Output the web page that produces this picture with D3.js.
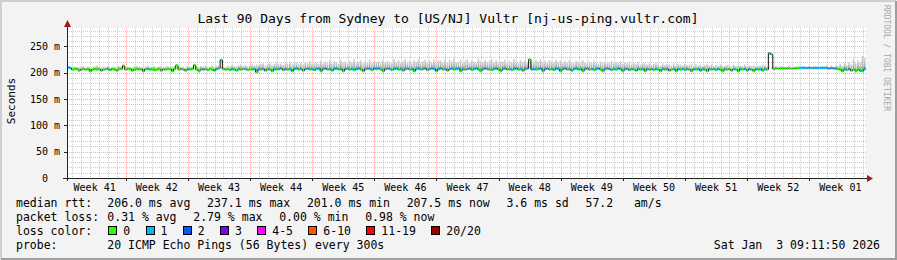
<!DOCTYPE html>
<html><head><meta charset="utf-8">
<script src="https://cdn.jsdelivr.net/npm/d3@7/dist/d3.min.js"></script>
<style>
body{margin:0;background:#f3f3f3}
svg{display:block}
text{font-family:"DejaVu Sans Mono",monospace;white-space:pre}
</style>
</head><body>
<svg id="c" width="897" height="260"></svg>
<script>
// ---------- data ----------
const startTime = Date.UTC(2025, 9, 5, 9, 11, 50);
const endTime   = Date.UTC(2026, 0, 3, 9, 11, 50);
const stepHours = 6;

// median rtt (ms), one value per 6 h (rows = one week)
const median = [
 210,209,206,207, 207,204,206,207, 206,207,203,206, 207,206,207,204, 206,207,207,205, 207,206,204,207, 207,213,206,207,
 207,204,206,207, 206,207,203,207, 207,206,207,205, 206,207,204,207, 206,207,207,203, 207,214,206,207, 206,204,207,206,
 207,214,206,203, 207,206,207,205, 207,206,204,207, 208,224,207,206, 207,205,207,206, 204,207,206,207, 207,205,207,206,
 207,201,207,206, 207,204,207,206, 203,207,206,207, 208,205,207,206, 207,203,207,208, 206,207,204,207, 208,206,207,205,
 207,208,203,207, 208,206,207,204, 207,208,206,207, 203,207,208,206, 207,205,207,208, 206,203,207,208, 207,205,208,207,
 208,206,203,207, 208,207,205,207, 208,206,207,204, 207,208,206,207, 203,207,208,206, 207,208,205,207, 208,207,203,207,
 208,206,207,204, 207,208,206,207, 208,203,207,206, 207,208,205,207, 208,206,203,207, 208,207,206,205, 207,208,206,203,
 207,208,206,207, 205,207,208,206, 207,204,207,208, 225,206,207,206, 207,208,203,207, 208,206,207,205, 208,207,203,207,
 208,206,207,204, 207,208,206,207, 203,207,208,206, 207,205,207,208, 206,203,207,208, 207,205,207,206, 208,207,203,207,
 207,205,207,206, 204,207,206,207, 203,207,206,207, 205,207,206,203, 207,206,207,204, 206,207,203,207, 206,207,205,207,
 206,203,207,206, 207,204,207,206, 203,207,206,207, 205,207,206,203, 207,206,207,204, 207,206,203,207, 206,207,204,207,
 206,203,207,206, 207,204,207,206, 237,235,207,208, 208,208,208,208, 208,208,208,208, 208,209,209,209, 209,209,209,209,
 209,209,209,209, 209,209,209,208, 209,208,208,207, 206,203,207,205, 207,204,206,203, 206,204,203,207
];
// upper edge of the smoke (ms)
const smokeHi = [
 213,212,210,212, 211,210,212,213, 210,212,211,210, 212,214,211,210, 212,211,213,210, 211,212,210,213, 212,216,211,212,
 211,210,212,213, 212,210,211,212, 214,211,210,213, 211,212,213,210, 212,213,211,212, 213,217,212,211, 212,210,213,212,
 211,217,212,210, 213,212,214,211, 212,214,211,213, 214,227,212,211, 213,212,215,213, 212,214,216,213, 215,213,214,216,
 214,216,215,217, 218,214,216,219, 215,217,220,216, 218,215,219,217, 221,216,218,220, 217,219,216,221, 218,222,217,219,
 220,217,223,218, 221,219,224,218, 222,220,217,225, 219,222,218,223, 220,226,219,221, 224,218,222,220, 225,219,223,221,
 222,219,225,220, 223,221,218,226, 220,224,219,222, 227,220,223,218, 224,221,226,219, 222,225,220,223, 219,226,221,224,
 223,220,226,219, 224,222,227,220, 221,225,219,223, 226,220,224,221, 219,227,222,220, 225,221,223,226, 220,224,219,222,
 221,225,219,223, 220,226,222,219, 224,221,225,220, 228,222,219,224, 221,226,220,223, 219,224,222,221, 225,220,223,219,
 222,219,224,220, 218,223,221,219, 224,220,218,222, 219,223,220,217, 222,219,221,218, 220,223,218,221, 219,222,217,220,
 218,221,216,219, 217,220,215,218, 219,216,218,215, 217,219,216,214, 218,215,217,216, 214,218,215,217, 216,214,217,215,
 215,217,213,216, 214,216,213,215, 217,214,216,213, 215,213,216,214, 213,215,214,212, 216,213,215,214, 213,216,212,214,
 213,215,212,214, 213,216,214,212, 240,238,212,213, 211,212,213,211, 212,214,211,212, 213,211,212,213, 212,211,213,212,
 212,213,211,212, 213,212,214,211, 213,212,214,213, 217,214,219,215, 221,216,226,218, 224,220,232,228
];
// lost pings (of 20)
const loss = [
 1,1,0,0, 0,0,0,0, 0,0,0,0, 0,0,0,0, 0,0,1,0, 0,0,0,0, 0,0,0,0,
 0,0,0,0, 0,0,0,0, 1,0,0,0, 0,0,0,0, 0,0,0,0, 0,0,0,0, 0,0,1,0,
 0,0,0,0, 0,1,0,0, 0,0,0,1, 0,1,0,0, 0,0,1,0, 0,1,0,0, 1,0,0,0,
 1,0,1,0, 1,0,1,0, 0,1,0,1, 1,0,1,0, 1,0,1,1, 0,1,0,1, 1,0,1,0,
 1,1,0,1, 1,0,1,0, 1,1,0,1, 0,1,1,0, 1,0,1,1, 0,0,1,1, 1,0,1,1,
 1,0,0,1, 1,1,0,1, 1,0,1,0, 1,1,0,1, 0,1,1,0, 1,1,0,1, 1,1,0,1,
 1,0,1,0, 1,1,0,1, 1,0,1,0, 1,1,0,1, 1,0,0,1, 1,1,0,0, 1,1,0,0,
 1,1,0,1, 0,1,1,0, 1,0,1,1, 0,1,1,0, 1,1,0,1, 1,0,1,0, 1,1,0,1,
 1,0,1,0, 1,1,0,1, 0,1,1,0, 1,0,1,1, 0,0,1,1, 1,0,1,0, 1,1,0,1,
 1,0,1,0, 0,1,0,1, 0,1,0,1, 0,1,0,0, 1,0,1,0, 0,1,0,1, 0,1,0,1,
 0,0,1,0, 1,0,1,0, 0,1,0,1, 0,1,0,0, 1,0,0,0, 1,0,0,1, 0,1,0,1,
 0,0,1,0, 1,0,1,0, 1,0,0,0, 0,0,0,0, 0,0,0,0, 0,0,1,1, 1,1,1,1,
 1,1,1,1, 1,1,1,1, 1,1,1,0, 0,0,1,0, 1,0,0,0, 0,1,0,1
];

const yMajor = [0, 50, 100, 150, 200, 250];
const yMajorLabels = ["0  ", "50 m", "100 m", "150 m", "200 m", "250 m"];
const yMinorStep = 10;

const lossLabels = ["0", "1", "2", "3", "4-5", "6-10", "11-19", "20/20"];
const lossColors = ["#26ff00", "#00b8ff", "#0059ff", "#7e00ff", "#ff00ff", "#ff5500", "#ff0000", "#a10000"];
const lossUpper = [0, 1, 2, 3, 5, 10, 19, 20];

const title = "Last 90 Days from Sydney to [US/NJ] Vultr [nj-us-ping.vultr.com]";
const legendRows = [
  ["median rtt:", ["206.0 ms avg", "237.1 ms max", "201.0 ms min", "207.5 ms now", "3.6 ms sd", "57.2   am/s"]],
  ["packet loss:", ["0.31 % avg", "2.79 % max", "0.00 % min", "0.98 % now"]]
];
const probeLabel = "probe:";
const probeText = "20 ICMP Echo Pings (56 Bytes) every 300s";
const stamp = "Sat Jan  3 09:11:50 2026";

// ---------- drawing ----------
const W = 897, H = 260;
const svg = d3.select("#c");
const x = d3.scaleUtc().domain([new Date(startTime), new Date(endTime)]).range([67, 866]);
const y = d3.scaleLinear().domain([0, 285]).range([178, 28]);
const [x0, x1] = x.range();
const [yb, yt] = y.range();

// frame
svg.append("rect").attr("width", W).attr("height", H).attr("fill", "#f3f3f3");
svg.append("path").attr("d", `M1,${H-1}V1H${W-1}`).attr("stroke", "#cfcfcf").attr("stroke-width", 2).attr("fill", "none");
svg.append("path").attr("d", `M1,${H-1}H${W-1}V1`).attr("stroke", "#9e9e9e").attr("stroke-width", 2).attr("fill", "none");

// canvas
svg.append("rect").attr("x", x0).attr("y", yt).attr("width", x1 - x0).attr("height", yb - yt).attr("fill", "#ffffff");

const grid = svg.append("g").attr("shape-rendering", "crispEdges");
const minorCol = "rgba(143,143,143,0.45)", majorCol = "rgba(255,64,64,0.45)";
d3.range(yMinorStep, y.domain()[1], yMinorStep).filter(v => v % 50 !== 0).forEach(v => {
  grid.append("line").attr("x1", x0).attr("x2", x1).attr("y1", Math.round(y(v)) + 0.5).attr("y2", Math.round(y(v)) + 0.5)
    .attr("stroke", minorCol).attr("stroke-dasharray", "1,1");
});
const days = d3.utcDay.range(new Date(startTime), new Date(endTime));
days.forEach(d => {
  if (d.getUTCDay() === 0) return;
  const xv = Math.round(x(d)) + 0.5;
  grid.append("line").attr("x1", xv).attr("x2", xv).attr("y1", yt).attr("y2", yb)
    .attr("stroke", minorCol).attr("stroke-dasharray", "1,1");
});
yMajor.filter(v => v > 0).forEach(v => {
  grid.append("line").attr("x1", x0).attr("x2", x1).attr("y1", Math.round(y(v)) + 0.5).attr("y2", Math.round(y(v)) + 0.5)
    .attr("stroke", majorCol).attr("stroke-dasharray", "1,1");
});
const sundays = d3.utcSunday.range(new Date(startTime), new Date(endTime));
sundays.forEach(d => {
  const xv = Math.round(x(d)) + 0.5;
  grid.append("line").attr("x1", xv).attr("x2", xv).attr("y1", yt).attr("y2", yb)
    .attr("stroke", majorCol).attr("stroke-dasharray", "1,1");
});

// smoke
const defs = svg.append("defs");
const grad = defs.append("linearGradient").attr("id", "smoke").attr("x1", 0).attr("x2", 0).attr("y1", 0).attr("y2", 1);
grad.append("stop").attr("offset", "0%").attr("stop-color", "#d8d8d8");
grad.append("stop").attr("offset", "55%").attr("stop-color", "#b8b8b8");
grad.append("stop").attr("offset", "100%").attr("stop-color", "#7c7c7c");

const times = median.map((_, i) => new Date(startTime + i * stepHours * 3600e3));
const tEnd = i => (i + 1 < times.length ? times[i + 1] : new Date(endTime));

svg.append("g").selectAll("rect").data(median).join("rect")
  .attr("x", (d, i) => x(times[i]))
  .attr("width", (d, i) => Math.max(0.8, x(tEnd(i)) - x(times[i]) - 0.6))
  .attr("y", (d, i) => y(smokeHi[i]))
  .attr("height", (d, i) => Math.max(0, y(d) - y(smokeHi[i])))
  .attr("fill", "url(#smoke)");

// median thin dark line
const pts = median.map((v, i) => [times[i], v]).concat([[new Date(endTime), median[median.length - 1]]]);
svg.append("path")
  .attr("d", d3.line().x(d => x(d[0])).y(d => y(d[1])).curve(d3.curveStepAfter)(pts))
  .attr("fill", "none").attr("stroke", "#111").attr("stroke-width", 1);

// loss-coloured median band
const bucket = n => lossUpper.findIndex(u => n <= u);
svg.append("g").selectAll("line").data(median).join("line")
  .attr("x1", (d, i) => x(times[i]) + 0.3)
  .attr("x2", (d, i) => x(tEnd(i)) - 0.3)
  .attr("y1", d => y(d)).attr("y2", d => y(d))
  .attr("stroke", (d, i) => lossColors[bucket(loss[i])])
  .attr("stroke-width", 2.5);

// axes
const ax = svg.append("g").attr("shape-rendering", "crispEdges");
ax.append("line").attr("x1", x0 - 4).attr("x2", x1 + 3).attr("y1", yb + 0.5).attr("y2", yb + 0.5).attr("stroke", "#222");
ax.append("line").attr("x1", x0 + 0.5).attr("x2", x0 + 0.5).attr("y1", yb + 3).attr("y2", yt - 6).attr("stroke", "#222");
yMajor.forEach(v => {
  ax.append("line").attr("x1", x0 - 3).attr("x2", x0).attr("y1", Math.round(y(v)) + 0.5).attr("y2", Math.round(y(v)) + 0.5).attr("stroke", "#222");
});
sundays.forEach(d => {
  const xv = Math.round(x(d)) + 0.5;
  ax.append("line").attr("x1", xv).attr("x2", xv).attr("y1", yb).attr("y2", yb + 3).attr("stroke", "#222");
});
svg.append("path").attr("d", `M${x0+0.5},${yt-8}L${x0-3},${yt-1}L${x0+4},${yt-1}Z`).attr("fill", "#a01818");
svg.append("path").attr("d", `M${x1+7},${yb+0.5}L${x1+1},${yb-3}L${x1+1},${yb+4}Z`).attr("fill", "#a01818");

// y labels
svg.append("g").selectAll("text").data(yMajor).join("text")
  .attr("x", 60).attr("y", v => y(v)).attr("dy", "0.35em")
  .attr("text-anchor", "end").attr("font-size", 10)
  .text((v, i) => yMajorLabels[i]);

// week labels
const weekStarts = d3.utcSunday.range(d3.utcSunday.floor(new Date(startTime)), new Date(endTime));
svg.append("g").selectAll("text").data(weekStarts).join("text")
  .attr("x", d => x(new Date(+d + 3.5 * 864e5)))
  .attr("y", 191).attr("text-anchor", "middle").attr("font-size", 10)
  .text(d => "Week " + d3.utcFormat("%V")(new Date(+d + 3.5 * 864e5)));

// titles
svg.append("text").attr("x", 448).attr("y", 23).attr("text-anchor", "middle").attr("font-size", 13).text(title);
svg.append("text").attr("transform", "translate(15,101) rotate(-90)").attr("text-anchor", "middle").attr("font-size", 11).text("Seconds");
svg.append("text").attr("transform", "translate(884,5) rotate(90)").attr("font-size", 8).attr("fill", "#a8a8a8").text("RRDTOOL / TOBI OETIKER");

// legend
const lf = 11.5, col2 = 107.3, gap = 16.7;
const baselines = [207, 221, 235, 249];
legendRows.forEach((row, r) => {
  svg.append("text").attr("x", 16).attr("y", baselines[r]).attr("font-size", lf).text(row[0]);
  let cx = col2;
  row[1].forEach(s => {
    const t = svg.append("text").attr("x", cx).attr("y", baselines[r]).attr("font-size", lf).text(s);
    cx += t.node().getComputedTextLength() + gap;
  });
});
svg.append("text").attr("x", 16).attr("y", baselines[2]).attr("font-size", lf).text("loss color:");
let bx = col2 + 1;
lossLabels.forEach((lab, i) => {
  svg.append("rect").attr("x", bx + 0.5).attr("y", baselines[2] - 8.5).attr("width", 8).attr("height", 8)
    .attr("fill", lossColors[i]).attr("stroke", "#000").attr("shape-rendering", "crispEdges");
  const t = svg.append("text").attr("x", bx + 15).attr("y", baselines[2]).attr("font-size", lf).text(lab);
  bx = bx + 15 + t.node().getComputedTextLength() + 15.3;
});
svg.append("text").attr("x", 16).attr("y", baselines[3]).attr("font-size", lf).text(probeLabel);
svg.append("text").attr("x", col2).attr("y", baselines[3]).attr("font-size", lf).text(probeText);
svg.append("text").attr("x", 880).attr("y", baselines[3]).attr("text-anchor", "end").attr("font-size", lf).text(stamp);
</script>
</body></html>
